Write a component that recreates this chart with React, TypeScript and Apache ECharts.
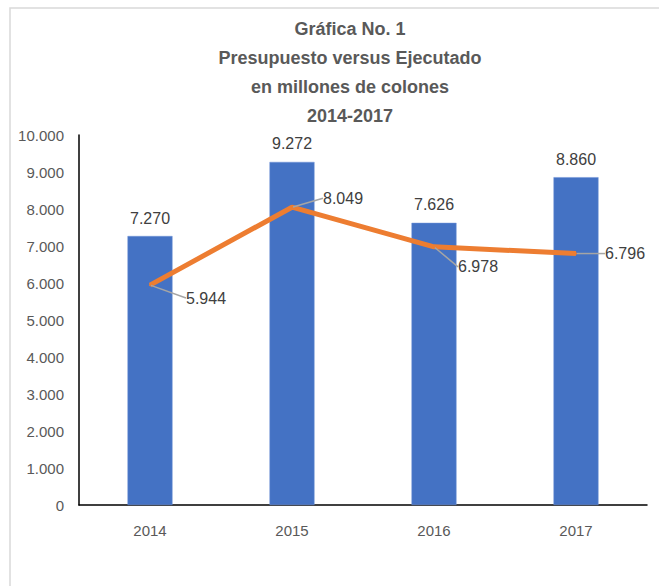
import React, { useEffect, useRef } from "react";
import * as echarts from "echarts";

const categories = ["2014", "2015", "2016", "2017"];
const presupuesto = [7270, 9272, 7626, 8860];
const ejecutado = [5944, 8049, 6978, 6796];
const titleLines = ["Gráfica No. 1", "Presupuesto versus Ejecutado", "en millones de colones", "2014-2017"];
const labelOffsets = [
  { dx: 30, dy: 13 },
  { dx: 25, dy: -9 },
  { dx: 18, dy: 20 },
  { dx: 23, dy: 0 },
];

const fmt = (v: number) => {
  const s = Math.round(v).toString();
  return s.replace(/\B(?=(\d{3})+(?!\d))/g, ".");
};

const FONT = "'Liberation Sans', 'Noto Sans', sans-serif";

export default function App() {
  const ref = useRef<HTMLDivElement>(null);
  useEffect(() => {
    if (!ref.current) return;
    const chart = echarts.init(ref.current, null, { renderer: "svg" });
    chart.setOption({
      animation: false,
      backgroundColor: "#ffffff",
      title: {
        text: titleLines.join("\n"),
        left: 345,
        textAlign: "center",
        top: 9,
        textStyle: {
          fontFamily: FONT,
          fontSize: 18,
          fontWeight: "bold",
          color: "#595959",
          lineHeight: 29,
        },
      },
      graphic: [
        {
          type: "rect",
          shape: { x: 10, y: 8, width: 700, height: 700 },
          style: { fill: "none", stroke: "#d9d9d9", lineWidth: 1.5 },
          silent: true,
        },
      ],
      grid: { left: 79, right: 12, top: 135, bottom: 81 },
      xAxis: {
        type: "category",
        data: categories,
        axisLine: { lineStyle: { color: "#000000", width: 1.5 } },
        axisTick: { show: false },
        axisLabel: { color: "#595959", fontSize: 15, fontFamily: FONT, margin: 18 },
      },
      yAxis: {
        type: "value",
        min: 0,
        max: 10000,
        interval: 1000,
        axisLine: { show: true, lineStyle: { color: "#000000", width: 1.5 } },
        axisTick: { show: false },
        splitLine: { show: false },
        axisLabel: {
          color: "#595959",
          fontSize: 15,
          fontFamily: FONT,
          margin: 15,
          formatter: (v: number) => fmt(v),
        },
      },
      series: [
        {
          name: "Presupuesto",
          type: "bar",
          data: presupuesto,
          barWidth: 45,
          itemStyle: { color: "#4472C4", borderColor: "#6f93d6", borderWidth: 0.5 },
          label: {
            show: true,
            position: "top",
            distance: 10,
            color: "#404040",
            fontSize: 16,
            fontFamily: FONT,
            formatter: (p: any) => fmt(p.value),
          },
        },
        {
          name: "Ejecutado",
          type: "line",
          data: ejecutado,
          symbol: "circle",
          symbolSize: 2,
          showSymbol: true,
          lineStyle: { color: "#ED7D31", width: 5 },
          itemStyle: { color: "#ED7D31" },
          label: {
            show: true,
            position: "right",
            distance: 5,
            color: "#404040",
            fontSize: 16,
            fontFamily: FONT,
            formatter: (p: any) => fmt(p.value),
          },
          labelLine: { show: true, lineStyle: { color: "#A5A5A5", width: 1.5 } },
          labelLayout: (params: any) => labelOffsets[params.dataIndex],
          z: 3,
        },
      ],
    });
    return () => chart.dispose();
  }, []);
  return (
    <div
      ref={ref}
      style={{ position: "fixed", left: 0, top: 0, width: 659, height: 586 }}
    />
  );
}
